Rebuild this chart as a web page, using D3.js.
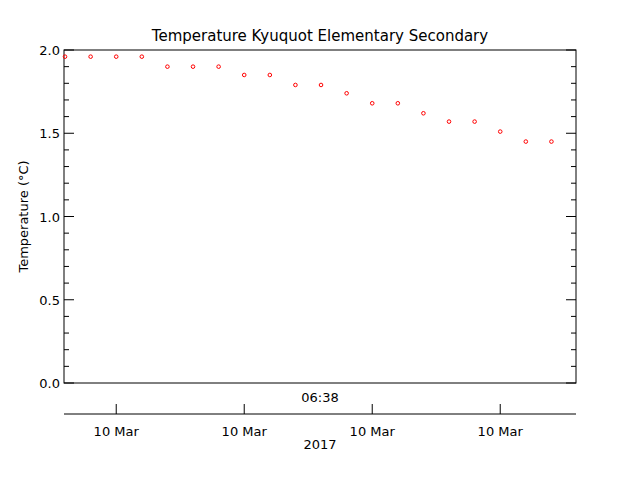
<!DOCTYPE html>
<html><head><meta charset="utf-8">
<script src="https://cdn.jsdelivr.net/npm/d3@7"></script>
<style>body{margin:0;background:#fff}text{font-family:"DejaVu Sans",sans-serif;font-size:13px;fill:#000}</style>
</head><body><svg id="c" width="640" height="480"></svg>
<script>
// sample index (evenly spaced readings) and temperature values
const sampleIdx = d3.range(20);
const temps = [1.96,1.96,1.96,1.96,1.90,1.90,1.90,1.85,1.85,1.79,1.79,1.74,1.68,1.68,1.62,1.57,1.57,1.51,1.45,1.45];
const dateTicks = [2, 7, 12, 17];
const dateLabels = ["10 Mar", "10 Mar", "10 Mar", "10 Mar"];
const yTicks = [0, 0.5, 1.0, 1.5, 2.0];

const svg = d3.select("#c");
const L = 64, R = 576, T = 50, B = 383;
const x = d3.scaleLinear().domain([-0.04, 19.96]).range([L, R]);
const y = d3.scaleLinear().domain([0, 2]).range([B, T]);

svg.append("rect").attr("x", L).attr("y", T).attr("width", R - L).attr("height", B - T)
    .attr("fill", "none").attr("stroke", "#000");

// y ticks both sides
const minor = d3.range(0, 2.001, 0.1);
minor.forEach(v => {
    const major = Math.abs(v * 2 - Math.round(v * 2)) < 1e-6;
    const len = major ? 10 : 5;
    svg.append("line").attr("x1", L).attr("x2", L + len).attr("y1", y(v)).attr("y2", y(v)).attr("stroke", "#000");
    svg.append("line").attr("x1", R).attr("x2", R - len).attr("y1", y(v)).attr("y2", y(v)).attr("stroke", "#000");
});
yTicks.forEach(v => {
    svg.append("text").attr("x", L - 4).attr("y", y(v) + 5).attr("text-anchor", "end").text(v.toFixed(1));
});

svg.append("text").attr("x", 320).attr("y", 41).attr("text-anchor", "middle").style("font-size", "15px")
    .text("Temperature Kyuquot Elementary Secondary");
svg.append("text").attr("transform", `translate(28,${(T + B) / 2}) rotate(-90)`).attr("text-anchor", "middle")
    .text("Temperature (°C)");

// separate date axis
svg.append("text").attr("x", 320).attr("y", 402).attr("text-anchor", "middle").text("06:38");
svg.append("line").attr("x1", L).attr("x2", R).attr("y1", 414).attr("y2", 414).attr("stroke", "#000");
dateTicks.forEach((t, i) => {
    svg.append("line").attr("x1", x(t)).attr("x2", x(t)).attr("y1", 414).attr("y2", 404).attr("stroke", "#000");
    svg.append("text").attr("x", x(t)).attr("y", 436).attr("text-anchor", "middle").text(dateLabels[i]);
});
svg.append("text").attr("x", 320).attr("y", 449).attr("text-anchor", "middle").text("2017");

svg.append("g").selectAll("circle").data(sampleIdx).join("circle")
    .attr("cx", i => x(i)).attr("cy", i => y(temps[i])).attr("r", 1.8)
    .attr("fill", "none").attr("stroke", "#f00").attr("stroke-width", 1);
</script></body></html>
